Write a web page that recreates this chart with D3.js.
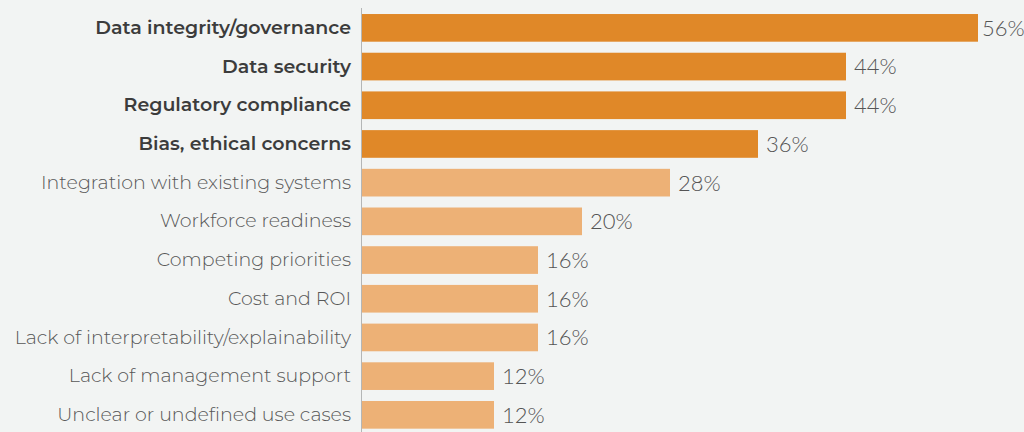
<!DOCTYPE html>
<html>
<head>
<meta charset="utf-8">
<script src="https://cdn.jsdelivr.net/npm/d3@7"></script>
<style>
  html, body { margin: 0; padding: 0; background: #f2f4f3; }
  svg { display: block; }
</style>
</head>
<body>
<svg id="chart" width="1024" height="432"></svg>
<script>
// Barriers to adoption, share of respondents (%)
const categories = [
  "Data integrity/governance",
  "Data security",
  "Regulatory compliance",
  "Bias, ethical concerns",
  "Integration with existing systems",
  "Workforce readiness",
  "Competing priorities",
  "Cost and ROI",
  "Lack of interpretability/explainability",
  "Lack of management support",
  "Unclear or undefined use cases"
];
const values = [56, 44, 44, 36, 28, 20, 16, 16, 16, 12, 12];
// Top four items are highlighted
const highlighted = [true, true, true, true, false, false, false, false, false, false, false];

const data = categories.map((c, i) => ({ category: c, value: values[i], top: highlighted[i] }));

const svg = d3.select("#chart");
const W = 1024, H = 432;
const x0 = 362;

const x = d3.scaleLinear().domain([0, 60]).range([x0, x0 + 660]);
const y = d3.scaleBand().domain(categories).range([3, 439.7]).padding(0.285);

svg.append("rect").attr("width", W).attr("height", H).attr("fill", "#f2f4f3");

// bars
svg.append("g").selectAll("rect")
  .data(data)
  .join("rect")
  .attr("x", x(0))
  .attr("y", d => y(d.category))
  .attr("width", d => x(d.value) - x(0))
  .attr("height", y.bandwidth())
  .attr("fill", d => d.top ? "#e08828" : "#edb176");

// category axis
const axis = svg.append("g")
  .attr("transform", `translate(${x0},0)`)
  .call(d3.axisLeft(y).tickSize(0).tickPadding(11));
axis.select(".domain").remove();
axis.append("line")
  .attr("x1", -0.5).attr("x2", -0.5)
  .attr("y1", 8).attr("y2", H)
  .attr("stroke", "#b4b6b6").attr("stroke-width", 1);
axis.selectAll(".tick text")
  .attr("fill", (d, i) => highlighted[i] ? "#3c3c3c" : "#575757")
  .style("font-family", "Montserrat, 'Open Sans', sans-serif")
  .style("font-size", "19px")
  .style("font-weight", (d, i) => highlighted[i] ? 600 : 300);

// value labels, kept inside the right edge
const labels = svg.append("g").selectAll("text")
  .data(data)
  .join("text")
  .attr("y", d => y(d.category) + y.bandwidth() / 2)
  .attr("dy", "0.36em")
  .attr("fill", "#555")
  .style("font-family", "Lato, sans-serif")
  .style("font-size", "22px")
  .style("font-weight", 300)
  .text(d => d.value + "%");
labels.attr("x", function (d) {
  const w = this.getComputedTextLength();
  return Math.max(x(d.value) + 4, Math.min(x(d.value) + 8, W - 1 - w));
});
</script>
</body>
</html>
